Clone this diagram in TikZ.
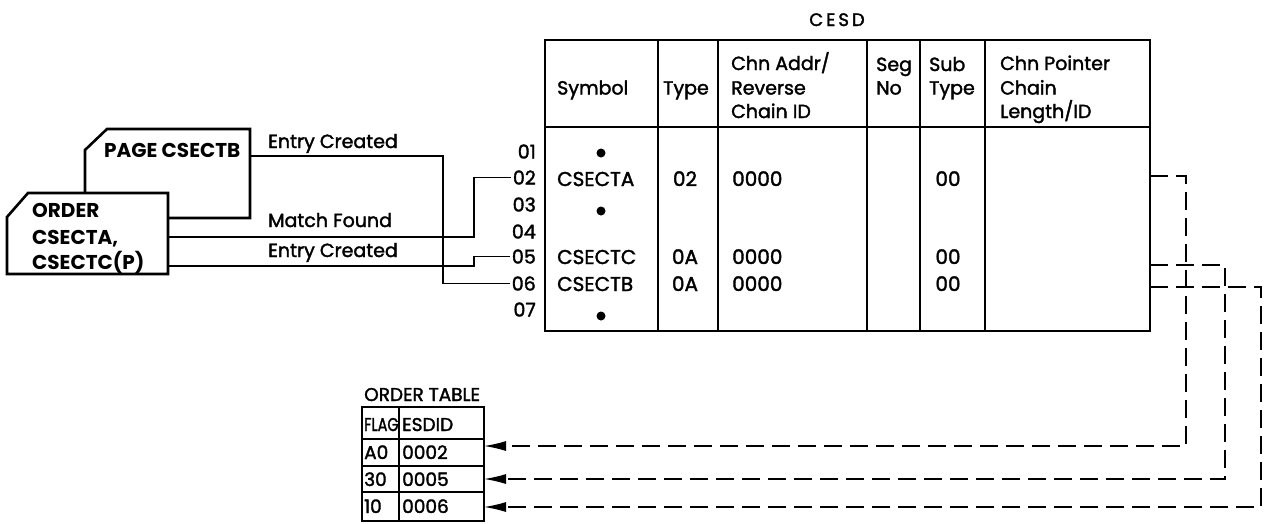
\documentclass[tikz,border=0pt]{standalone}
\usepackage{fontspec}
\usepackage{graphicx}
\setmainfont{Poppins}[UprightFeatures={FakeBold=1.8}]
\usetikzlibrary{arrows.meta,calc}
\begin{document}
\begin{tikzpicture}[x=1pt,y=-1pt,
  box/.style={line width=2.6pt, line join=miter, fill=white},
  conn/.style={line width=1.4pt},
  dsh/.style={line width=1.4pt, dash pattern=on 18pt off 8pt},
  frame/.style={line width=2.6pt},
  rule/.style={line width=1.3pt},
  txt/.style={inner sep=0pt, anchor=base west, font=\fontsize{20}{24}\selectfont},
  ctxt/.style={inner sep=0pt, anchor=base, font=\fontsize{20}{24}\selectfont},
  hdr/.style={inner sep=0pt, anchor=base west, font=\fontsize{19}{24}\selectfont},
  boxtxt/.style={inner sep=0pt, anchor=base west, font=\fontsize{20}{24}\selectfont\bfseries},
  lbl/.style={inner sep=0pt, anchor=base west, font=\fontsize{19}{24}\selectfont},
  otxt/.style={inner sep=0pt, anchor=base west, font=\fontsize{18.5}{22}\selectfont},
  rowno/.style={inner sep=2pt, anchor=base east, font=\fontsize{19}{22}\selectfont},
  tip/.style={-{Latex[length=22pt,width=10pt]}},
  dot/.style={fill=black, circle, inner sep=0pt, minimum size=9pt}
]
\useasboundingbox (0,0) rectangle (1264,523);
\fill[white] (0,0) rectangle (1264,523);

% ---------- CESD table ----------
\node[inner sep=0pt, anchor=base, font=\fontsize{18}{22}\selectfont] (cesdtitle) at (837,26) {C\,E\,S\,D};
\draw[frame] (545,40) rectangle (1150,331);
\draw[frame] (545,127) -- (1150,127);
\foreach \x in {658,718,867,920,985} \draw[rule] (\x,40) -- (\x,331);

\node[hdr] (hsym) at (557,94.5) {Symbol};
\node[hdr] (htype) at (663,94.5) {Type};
\node[hdr] (hchn1) at (731,70) {Chn Addr/};
\node[hdr] (hchn2) at (731,94.5) {Reverse};
\node[hdr] (hchn3) at (731,118) {Chain ID};
\node[hdr] (hseg1) at (876,71) {Seg};
\node[hdr] (hseg2) at (876,94.5) {No};
\node[hdr] (hsub1) at (929,71) {Sub};
\node[hdr] (hsub2) at (929,94.5) {Type};
\node[hdr] (hptr1) at (1000,70) {Chn Pointer};
\node[hdr] (hptr2) at (1000,94.5) {Chain};
\node[hdr] (hptr3) at (1000,118) {Length/ID};

\node[rowno] (r01) at (538,158.5) {01};
\node[rowno] (r02) at (538,184.5) {02};
\node[rowno] (r03) at (538,211.5) {03};
\node[rowno] (r04) at (538,238.5) {04};
\node[rowno] (r05) at (538,263.5) {05};
\node[rowno] (r06) at (538,290.5) {06};
\node[rowno] (r07) at (538,316.5) {07};

\node[dot] (d1) at (601,153) {};
\node[dot] (d2) at (601,211) {};
\node[dot] (d3) at (601,316) {};

\node[txt] (sa) at (557,186) {CSECTA};
\node[ctxt] (ta) at (685,186) {02};
\node[txt] (ca) at (732,186) {0000};
\node[ctxt] (ua) at (948,186) {00};

\node[txt] (sc) at (557,264) {CSECTC};
\node[ctxt] (tc) at (685,264) {0A};
\node[txt] (cc) at (732,264) {0000};
\node[ctxt] (uc) at (948,264) {00};

\node[txt] (sb) at (557,291) {CSECTB};
\node[ctxt] (tb) at (685,291) {0A};
\node[txt] (cb) at (732,291) {0000};
\node[ctxt] (ub) at (948,291) {00};

\coordinate (c02) at (1150,176);
\coordinate (c05) at (1150,265);
\coordinate (c06) at (1150,287);

% ---------- cards ----------
\draw[box] (85,150) -- (107,129) -- (250,129) -- (250,218) -- (85,218) -- cycle;
\node[boxtxt] (page) at (104,157.5) {PAGE CSECTB};
\draw[box] (7,217) -- (28,193) -- (168,193) -- (168,274) -- (7,274) -- cycle;
\node[boxtxt] (order1) at (32,217.5) {ORDER};
\node[boxtxt] (order2) at (32,244) {CSECTA,};
\node[boxtxt] (order3) at (32,269) {CSECTC(P)};

\coordinate (pgout) at (250,156);
\coordinate (orA) at (168,237);
\coordinate (orC) at (168,266);

\draw[conn] (pgout) -- (443,156) |- (r06.west);
\draw[conn] (orA) -- (474,237) |- (r02.west);
\draw[conn] (orC) -- (474,266) |- (r05.west);

\node[lbl] (l1) at (268,148) {Entry Created};
\node[lbl] (l2) at (268,227) {Match Found};
\node[lbl] (l3) at (268,257) {Entry Created};

% ---------- order table ----------
\node[otxt] (ottitle) at (364,401) {ORDER TABLE};
\draw[frame] (362,407) rectangle (484,521);
\draw[frame] (362,439) -- (484,439);
\draw[frame] (362,466) -- (484,466);
\draw[frame] (362,492) -- (484,492);
\draw[rule] (399,407) -- (399,521);
\node[otxt] (fl) at (364,431) {\scalebox{0.78}[1]{FLAG}};
\node[otxt] (es) at (402,431) {ESDID};
\node[otxt] (f1) at (364,459) {A0};
\node[otxt] (f2) at (364,486) {30};
\node[otxt] (f3) at (364,513) {10};
\node[otxt] (v1) at (402,459) {0002};
\node[otxt] (v2) at (402,486) {0005};
\node[otxt] (v3) at (402,513) {0006};

\coordinate (e1) at (484,446);
\coordinate (e2) at (484,479);
\coordinate (e3) at (484,507);
\coordinate (k1) at (1186,446);
\coordinate (k2) at (1225,479);
\coordinate (k3) at (1261,507);

\draw[dsh,tip] (c02) -| (k1) -- (e1);
\draw[dsh,tip] (c05) -| (k2) -- (e2);
\draw[dsh,tip] (c06) -| (k3) -- (e3);
\end{tikzpicture}
\end{document}
